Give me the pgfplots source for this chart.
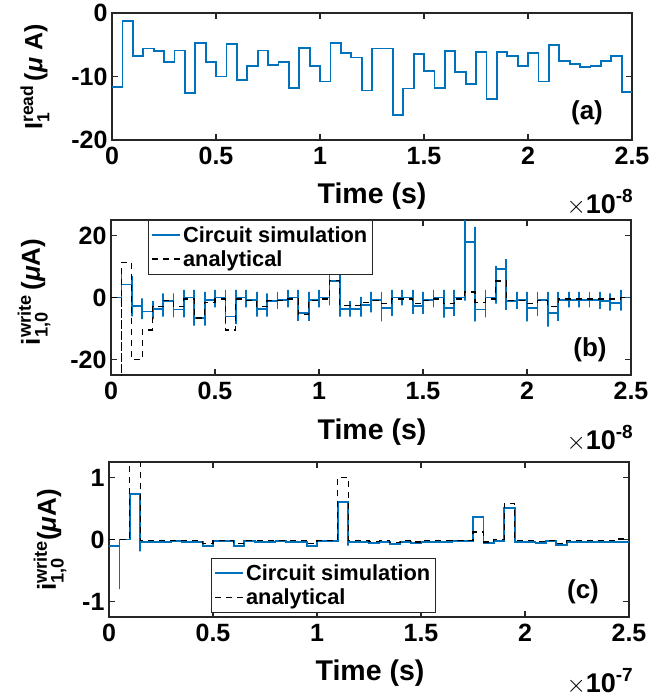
\documentclass[border=0pt]{standalone}
\usepackage{amsmath}
\usepackage{fontspec}
\setmainfont{Liberation Sans}
\usepackage{pgfplots}
\pgfplotsset{compat=1.18}
\definecolor{mblue}{RGB}{0,114,189}
\definecolor{axgray}{RGB}{38,38,38}
\newcommand{\tfont}{\bfseries\fontsize{25}{29}\selectfont}
\newcommand{\gfont}{\bfseries\fontsize{21.8}{26}\selectfont}
\newcommand{\lfont}{\bfseries\fontsize{28.5}{32}\selectfont}
\newcommand{\xten}[1]{\fontsize{27}{31}\selectfont$\times$\bfseries 10\raisebox{11pt}{\fontsize{19}{22}\selectfont #1}}
\pgfplotsset{
  myax/.style={
    scale only axis, width=520pt, anchor=south west,
    xmin=0, xmax=2.5, xtick={0,0.5,1,1.5,2,2.5}, xticklabels={0,0.5,1,1.5,2,2.5},
    tick align=inside, tick pos=both, major tick length=6pt,
    axis line style={axgray, line width=1.2pt},
    every tick/.style={axgray, line width=1.2pt},
    ticklabel style={font=\tfont, text=black},
    xticklabel style={yshift=-4pt},
    yticklabel style={xshift=-1pt},
    /pgf/number format/assume math mode=true,
    scaled ticks=false, clip=true,
    legend cell align=left,
    legend image code/.code={\draw[##1] (0pt,0pt) -- (28pt,0pt);},
    legend style={draw=axgray, font=\gfont, inner xsep=3pt, inner ysep=4pt,
      row sep=3pt, fill=white},
  },
}
\begin{document}
\begin{tikzpicture}
\useasboundingbox (0pt,0pt) rectangle (651pt,-698pt);
% ---------------- (a)
\begin{axis}[myax, at={(112pt,-140pt)}, height=127pt,
  ymin=-20, ymax=0, ytick={-20,-10,0}, yticklabels={-20,-10,0}]
\addplot[mblue, line width=1.8pt, const plot] coordinates {
(0,-11.7)(0.05,-1.3)(0.10,-6.8)(0.15,-5.6)(0.20,-6.0)(0.25,-7.7)(0.30,-5.9)(0.35,-12.6)(0.40,-4.7)(0.45,-7.7)
(0.50,-10.0)(0.55,-4.9)(0.60,-10.6)(0.65,-8.4)(0.70,-5.9)(0.75,-8.2)(0.80,-7.7)(0.85,-11.8)(0.90,-5.5)(0.95,-8.4)
(1.00,-10.8)(1.05,-4.7)(1.10,-6.3)(1.15,-7.0)(1.20,-12.2)(1.25,-5.6)(1.30,-5.6)(1.35,-16.0)(1.40,-11.9)(1.45,-6.4)
(1.50,-9.1)(1.55,-11.8)(1.60,-6.0)(1.65,-9.3)(1.70,-11.2)(1.75,-6.2)(1.80,-13.5)(1.85,-6.2)(1.90,-6.8)(1.95,-8.4)
(2.00,-6.3)(2.05,-10.8)(2.10,-5.1)(2.15,-7.6)(2.20,-8.0)(2.25,-8.5)(2.30,-8.3)(2.35,-7.5)(2.40,-6.8)(2.45,-12.5)
(2.50,-12.5)};
\end{axis}
% ---------------- (b)
\begin{axis}[myax, at={(111pt,-375pt)}, height=155pt,
  ymin=-25, ymax=25, ytick={-20,0,20}, yticklabels={-20,0,20},
  legend style={at={(0.071,1)}, anchor=north west}]
\addplot[mblue, line width=1.8pt, forget plot] coordinates {
(0,0)
(0.05,0)(0.05,8.3)(0.05,-1)(0.05,4.2)
(0.10,4.2)(0.10,7.0)(0.10,-6.1)(0.10,-2.8)
(0.15,-2.8)(0.15,-0.3)(0.15,-7.0)(0.15,-4.5)
(0.20,-4.5)(0.20,-1.2)(0.20,-7.0)(0.20,-3.7)
(0.25,-3.7)(0.25,1.3)(0.25,-6.2)(0.25,-1.2)
(0.30,-1.2)(0.30,1.3)(0.30,-6.4)(0.30,-3.9)
(0.35,-3.9)(0.35,2.5)(0.35,-6.4)(0.35,0)
(0.40,0)(0.40,2.5)(0.40,-9.1)(0.40,-6.6)
(0.45,-6.6)(0.45,1.8)(0.45,-9.1)(0.45,-0.7)
(0.50,-0.7)(0.50,2.5)(0.50,-3.2)(0.50,0)
(0.55,0)(0.55,2.5)(0.55,-8.6)(0.55,-6.1)
(0.60,-6.1)(0.60,2.5)(0.60,-8.6)(0.60,0)
(0.65,0)(0.65,2.5)(0.65,-3.2)(0.65,-0.7)
(0.70,-0.7)(0.70,1.8)(0.70,-6.2)(0.70,-3.7)
(0.75,-3.7)(0.75,1.3)(0.75,-6.2)(0.75,-1.2)
(0.80,-1.2)(0.80,1.8)(0.80,-3.7)(0.80,-0.7)
(0.85,-0.7)(0.85,2.5)(0.85,-3.2)(0.85,0)
(0.90,0)(0.90,2.5)(0.90,-7.5)(0.90,-5.0)
(0.95,-5.0)(0.95,1.8)(0.95,-7.5)(0.95,-0.7)
(1.00,-0.7)(1.00,2.5)(1.00,-3.2)(1.00,0)
(1.05,0)(1.05,7.8)(1.05,-2.5)(1.05,5.3)
(1.10,5.3)(1.10,7.8)(1.10,-6.2)(1.10,-3.7)
(1.15,-3.7)(1.15,-1.2)(1.15,-6.2)(1.15,-3.7)
(1.20,-3.7)(1.20,0.2)(1.20,-6.2)(1.20,-2.3)
(1.25,-2.3)(1.25,1.8)(1.25,-4.8)(1.25,-0.7)
(1.30,-0.7)(1.30,1.8)(1.30,-7.7)(1.30,-3.4)
(1.35,-3.4)(1.35,2.5)(1.35,-5.9)(1.35,0)
(1.40,0)(1.40,2.5)(1.40,-2.5)(1.40,0)
(1.45,0)(1.45,2.5)(1.45,-5.3)(1.45,-2.8)
(1.50,-2.8)(1.50,1.8)(1.50,-5.3)(1.50,-0.7)
(1.55,-0.7)(1.55,2.5)(1.55,-3.2)(1.55,0)
(1.60,0)(1.60,2.5)(1.60,-6.5)(1.60,-3.4)
(1.65,-3.4)(1.65,2.5)(1.65,-5.9)(1.65,0)
(1.70,0)(1.70,27)(1.70,-1.0)(1.70,18)
(1.75,18)(1.75,22.8)(1.75,-7.7)(1.75,-3.9)
(1.80,-3.9)(1.80,2.5)(1.80,-6.4)(1.80,0)
(1.85,0)(1.85,10.2)(1.85,-2.0)(1.85,9.2)
(1.90,9.2)(1.90,12.4)(1.90,-4.0)(1.90,-1.2)
(1.95,-1.2)(1.95,1.8)(1.95,-3.7)(1.95,-0.7)
(2.00,-0.7)(2.00,1.8)(2.00,-7.7)(2.00,-3.4)
(2.05,-3.4)(2.05,1.8)(2.05,-5.9)(2.05,-0.7)
(2.10,-0.7)(2.10,1.8)(2.10,-9.4)(2.10,-5.0)
(2.15,-5.0)(2.15,1.8)(2.15,-7.5)(2.15,-0.7)
(2.20,-0.7)(2.20,1.8)(2.20,-3.2)(2.20,-0.7)
(2.25,-0.7)(2.25,1.8)(2.25,-3.2)(2.25,-0.7)
(2.30,-0.7)(2.30,1.8)(2.30,-3.2)(2.30,-0.7)
(2.35,-0.7)(2.35,1.8)(2.35,-3.7)(2.35,-1.2)
(2.40,-1.2)(2.40,1.3)(2.40,-4.2)(2.40,-1.7)
(2.45,-1.7)(2.45,2.5)(2.45,-4.2)(2.45,0)
(2.50,0)};
\addlegendimage{mblue, line width=2pt}
\addlegendentry{Circuit simulation}
\addlegendimage{black, line width=1.3pt, dash pattern=on 6pt off 5pt}
\addlegendentry{analytical}
\addplot[black, line width=1.3pt, dash pattern=on 6pt off 5pt, const plot, forget plot] coordinates {
(0,0)(0.05,-30)(0.05,11.3)(0.10,-20)(0.15,-10.5)(0.20,-3)(0.25,-1)(0.30,-3)(0.35,-0.5)(0.40,-6.6)
(0.45,-1.5)(0.50,-0.5)(0.55,-10.5)(0.60,-0.5)(0.65,-1)(0.70,-3)(0.75,-1)(0.80,-1)(0.85,-0.5)(0.90,-5.5)
(0.95,-1)(1.00,-0.5)(1.05,5.5)(1.10,-2.5)(1.15,-2.5)(1.20,-1.5)(1.25,-1)(1.30,-2)(1.35,-0.5)(1.40,-0.5)
(1.45,-2)(1.50,-1)(1.55,-0.5)(1.60,-2)(1.65,-0.5)(1.70,1.8)(1.75,-1.5)(1.80,-0.5)(1.85,5.3)(1.90,-1)
(1.95,-1)(2.00,-2)(2.05,-1)(2.10,-3)(2.15,-0.5)(2.20,-0.5)(2.25,-0.5)(2.30,-0.5)(2.35,-0.5)(2.40,-0.5)
(2.45,0)(2.50,0)};
\end{axis}
% ---------------- (c)
\begin{axis}[myax, at={(109pt,-617pt)}, height=155pt,
  ymin=-1.25, ymax=1.25, ytick={-1,0,1}, yticklabels={-1,0,1},
  legend style={at={(0.196,0.38)}, anchor=north west}]
\addplot[mblue, line width=1.8pt, const plot, forget plot] coordinates {
(0,-0.1)(0.05,-0.8)(0.05,0)(0.10,0.73)(0.15,-0.19)(0.15,-0.04)(0.20,-0.04)(0.25,-0.04)(0.30,-0.03)(0.35,-0.04)
(0.40,-0.04)(0.45,-0.1)(0.50,-0.03)(0.55,-0.03)(0.60,-0.11)(0.65,-0.03)(0.70,-0.04)(0.75,-0.04)(0.80,-0.03)(0.85,-0.04)
(0.90,-0.04)(0.95,-0.1)(1.00,-0.03)(1.05,-0.03)(1.10,0.6)(1.15,-0.1)(1.15,-0.04)(1.20,-0.04)(1.25,-0.05)(1.30,-0.04)
(1.35,-0.07)(1.40,-0.04)(1.45,-0.06)(1.50,-0.04)(1.55,-0.04)(1.60,-0.04)(1.65,-0.03)(1.70,-0.03)(1.75,0.36)(1.80,-0.05)
(1.85,-0.02)(1.90,0.51)(1.95,-0.04)(2.00,-0.04)(2.05,-0.05)(2.10,-0.03)(2.15,-0.09)(2.20,-0.04)(2.25,-0.04)(2.30,-0.04)
(2.35,-0.04)(2.40,-0.04)(2.45,-0.04)(2.50,-0.04)};
\addlegendimage{mblue, line width=2pt}
\addlegendentry{Circuit simulation}
\addlegendimage{black, line width=1.3pt, dash pattern=on 6pt off 5pt}
\addlegendentry{analytical}
\addplot[black, line width=1.3pt, dash pattern=on 6pt off 5pt, const plot, forget plot] coordinates {
(0,0)(0.05,0)(0.10,1.45)(0.15,-0.02)(0.20,-0.02)(0.25,-0.02)(0.30,-0.02)(0.35,-0.02)(0.40,-0.02)(0.45,-0.07)
(0.50,-0.02)(0.55,-0.02)(0.60,-0.07)(0.65,-0.02)(0.70,-0.02)(0.75,-0.02)(0.80,-0.02)(0.85,-0.02)(0.90,-0.02)(0.95,-0.07)
(1.00,-0.02)(1.05,-0.02)(1.10,1.0)(1.15,-0.02)(1.20,-0.02)(1.25,-0.03)(1.30,-0.02)(1.35,-0.05)(1.40,-0.02)(1.45,-0.04)
(1.50,-0.02)(1.55,-0.02)(1.60,-0.02)(1.65,-0.02)(1.70,-0.02)(1.75,0.12)(1.80,-0.04)(1.85,0.0)(1.90,0.58)(1.95,-0.02)
(2.00,-0.02)(2.05,-0.03)(2.10,-0.02)(2.15,-0.07)(2.20,-0.02)(2.25,-0.02)(2.30,-0.02)(2.35,-0.02)(2.40,-0.02)(2.45,0.01)
(2.50,0.01)};
\end{axis}
% ---------------- labels
\node[font=\lfont] at (372pt,-196pt) {Time (s)};
\node[font=\lfont] at (372pt,-432pt) {Time (s)};
\node[font=\lfont] at (370pt,-673pt) {Time (s)};
\node[anchor=base east, inner sep=0pt] at (633pt,-213pt) {\xten{-8}};
\node[anchor=base east, inner sep=0pt] at (633pt,-449pt) {\xten{-8}};
\node[anchor=base east, inner sep=0pt] at (633pt,-692pt) {\xten{-7}};
\node[font=\bfseries\fontsize{26}{30}\selectfont] at (587pt,-113pt) {(a)};
\node[font=\bfseries\fontsize{26}{30}\selectfont] at (590pt,-350pt) {(b)};
\node[font=\bfseries\fontsize{26}{30}\selectfont] at (583pt,-592pt) {(c)};
\node[rotate=90, font=\fontsize{25}{29}\selectfont\bfseries] at (35pt,-77pt)
  {I$^{\textbf{read}}_{\textbf{1}}$\,(\textit{μ} A)};
\node[rotate=90, font=\fontsize{26}{30}\selectfont\bfseries] at (34pt,-292pt)
  {i$^{\textbf{write}}_{\textbf{1,0}}$\,(\textit{μ}A)};
\node[rotate=90, font=\fontsize{26}{30}\selectfont\bfseries] at (50pt,-540pt)
  {i$^{\textbf{write}}_{\textbf{1,0}}$(\textit{μ}A)};
\end{tikzpicture}
\end{document}
